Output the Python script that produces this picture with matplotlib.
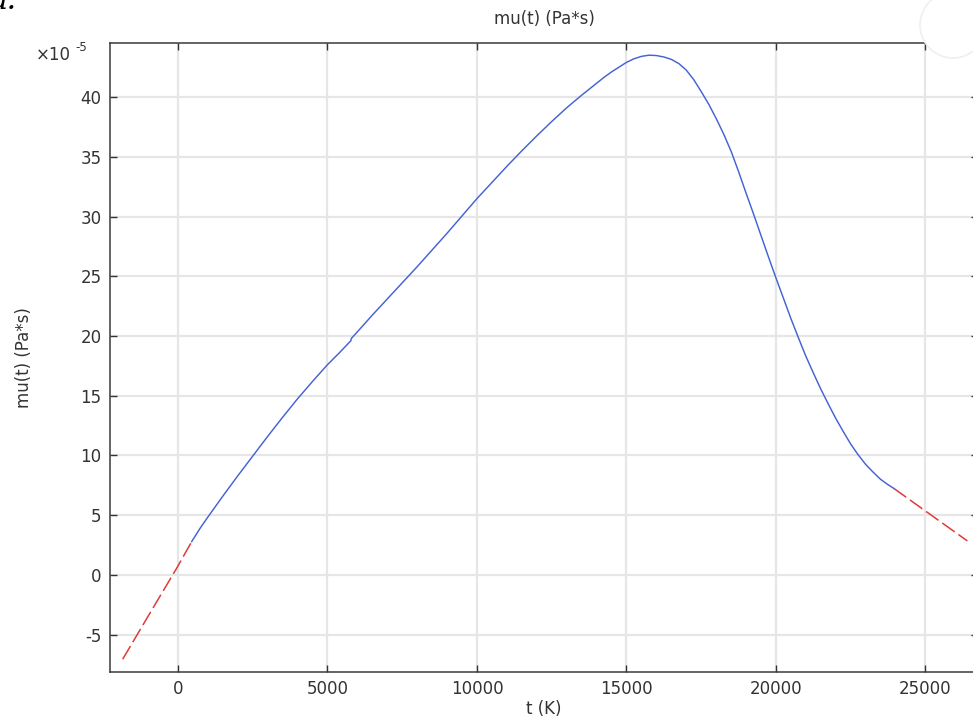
"""mu(t) viscosity curve, COMSOL-style line plot with extrapolated ends."""

import matplotlib
matplotlib.use("Agg")
import matplotlib.pyplot as plt
from matplotlib.patches import Ellipse

# data, mu in units of 1e-5 Pa*s
t_fit = [458, 750, 1000, 1500, 2000, 2500, 3000, 3500, 4000, 4500, 5000, 5400,
         5780, 5800, 6000, 6500, 7000, 8000, 9000, 10000, 11000, 11500, 12000,
         12500, 13000, 13500, 14000, 14250, 14500, 14750, 15000, 15250, 15500,
         15750, 16000, 16250, 16500, 16750, 17000, 17250, 17500, 17750, 18000,
         18250, 18500, 18750, 19000, 19250, 19500, 19750, 20000, 20250, 20500,
         20750, 21000, 21250, 21500, 21750, 22000, 22250, 22500, 22750, 23000,
         23250, 23500, 23750, 23939]
mu_fit = [2.79, 3.95, 4.85, 6.6, 8.3, 9.95, 11.6, 13.2, 14.75, 16.2, 17.6, 18.6,
          19.6, 19.8, 20.35, 21.75, 23.1, 25.8, 28.6, 31.5, 34.2, 35.5, 36.75,
          37.95, 39.1, 40.15, 41.15, 41.65, 42.1, 42.5, 42.9, 43.2, 43.4,
          43.5, 43.47, 43.35, 43.15, 42.8, 42.25, 41.45, 40.45, 39.4, 38.2,
          36.9, 35.45, 33.75, 31.95, 30.2, 28.4, 26.6, 24.85, 23.15, 21.45,
          19.85, 18.3, 16.9, 15.55, 14.3, 13.1, 12.0, 10.95, 10.05, 9.25,
          8.6, 8.0, 7.55, 7.25]

t_lo = [-1850, -940, -45, 458]
mu_lo = [-7.05, -3.20, 0.56, 2.79]

t_hi = [23939, 25000, 26400]
mu_hi = [7.25, 5.35, 2.85]

x_ticks = [0, 5000, 10000, 15000, 20000, 25000]
y_ticks = [-5, 0, 5, 10, 15, 20, 25, 30, 35, 40]

BLUE = "#4462d6"
RED = "#de3a3a"
TXT = "#333333"

plt.rcParams["axes.unicode_minus"] = False
plt.rcParams["font.family"] = ["DejaVu Sans"]

W, H = 973, 722
fig = plt.figure(figsize=(W / 100, H / 100), dpi=100)
ax = fig.add_axes([110 / W, 50 / H, 868 / W, 629 / H])

ax.plot(t_lo, mu_lo, color=RED, lw=1.1, ls=(0, (10, 3)), zorder=3)
ax.plot(t_hi, mu_hi, color=RED, lw=1.1, ls=(0, (10, 3)), zorder=3)
ax.plot(t_fit, mu_fit, color=BLUE, lw=1.05, zorder=3)

ax.set_xlim(-2274, 26756)
ax.set_ylim(-8.12, 44.52)
ax.set_xticks(x_ticks)
ax.set_yticks(y_ticks)
ax.grid(True, color="#e6e6e6", lw=1.6, zorder=0)
ax.set_axisbelow(True)

ax.tick_params(direction="in", length=5, width=1.0, top=True, right=True,
               labelsize=12, labelcolor=TXT, color="#333333", pad=6)
for s in ax.spines.values():
    s.set_color("#3a3a3a")
    s.set_linewidth(1.1)

ax.set_title("mu(t) (Pa*s)", fontsize=12, color=TXT, pad=14)
ax.set_xlabel("t (K)", fontsize=12, color=TXT, labelpad=1)
ax.set_ylabel("mu(t) (Pa*s)", fontsize=12, color=TXT, labelpad=34)

# axis multiplier, drawn by hand like the reference (hyphen minus)
fig.text(36 / W, 1 - 60 / H, "×10", fontsize=12, color=TXT,
         ha="left", va="baseline")
fig.text(75 / W, 1 - 51 / H, "-5", fontsize=8.5, color=TXT,
         ha="left", va="baseline")

# cut-off label at top left and overlay circle at top right
fig.text(-10 / W, 1 - 9 / H, "a:", fontsize=22, family="DejaVu Serif",
         style="italic", color="black", ha="left", va="baseline")
fig.add_artist(Ellipse((953 / W, 1 - 25 / H), 66 / W, 66 / H,
                       transform=fig.transFigure, facecolor="white",
                       edgecolor="#efefef", lw=1.2, zorder=5))

fig.savefig("out.png", dpi=100)
